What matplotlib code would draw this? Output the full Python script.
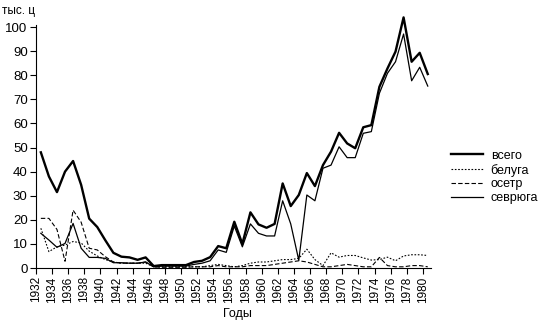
import numpy as np
import matplotlib
matplotlib.use("Agg")
import matplotlib.pyplot as plt

plt.rcParams['font.family'] = ['Liberation Sans', 'DejaVu Sans']

years = list(range(1932, 1981))

total = [48, 38, 31.5, 40, 44.4, 34.5, 20.5, 17, 11.5, 6.3, 4.7, 4.4, 3.4, 4.4, 0.8, 1.2, 1.2, 1.2, 1.2, 2.5,
         3.0, 4.5, 9.1, 8.2, 19.2, 10, 23.1, 18.1, 16.7, 18.3, 35.1, 25.7, 30.3, 39.4, 34, 42.7, 48.3, 56.1, 51.7, 49.7,
         58.4, 59.3, 75.2, 82.8, 89.8, 104, 85.6, 89.3, 80.5]

beluga = [16.5, 6.8, 8.8, 9.5, 11, 10.4, 7, 5, 3.5, 2.5, 2, 2, 2, 2, 0.5, 0.5, 0.5, 0.5, 0.5, 0.5,
          0.5, 1, 1.5, 1, 0.5, 1, 2, 2.5, 2.5, 3, 3.5, 3.5, 4, 7.8, 3.5, 1, 6.3, 4.5, 5.2, 5.2,
          4.2, 3.3, 3.5, 4.5, 3, 5, 5.5, 5.5, 5.2]

osetr = [20.6, 20.6, 16, 2.8, 24, 19, 8.2, 7.5, 4.7, 2.5, 2, 2, 2, 2.5, 0.5, 0.3, 0.3, 0.3, 0.3, 0.5,
         0.5, 0.5, 1, 0.5, 0.5, 0.5, 1, 1, 1, 1.5, 2, 2.5, 3, 2.5, 1.5, 0.5, 0.5, 1, 1.5, 1,
         0.5, 0.5, 4.4, 1, 0.5, 0.5, 1, 1, 0.5]

sevruga = [14.4, 11.6, 8.6, 10.2, 18.5, 8.2, 4.4, 4.4, 4, 2.2, 2.2, 2, 2, 2.5, 0.5, 0.8, 0.8, 0.8, 0.8, 1.5,
           2, 3, 7.5, 6.5, 17.4, 8.8, 18.3, 14.4, 13.3, 13.3, 27.9, 18.3, 3.2, 30.3, 27.9, 41.4, 42.7, 50.3, 45.8, 45.8,
           55.9, 56.6, 72.5, 80.8, 85.6, 97.1, 77.7, 83.3, 75.5]

labels = ['всего', 'белуга', 'осетр', 'севрюга']

fig = plt.figure(figsize=(5.39, 3.24), dpi=100)
ax = fig.add_axes([0.0668, 0.1728, 0.7328, 0.7512])

x = np.array(years) + 0.6
l1, = ax.plot(x, total, color='black', lw=1.7, label=labels[0], clip_on=False)
l2, = ax.plot(x, beluga, color='black', lw=0.8, linestyle=(0, (1.5, 1.5)), label=labels[1])
l3, = ax.plot(x, osetr, color='black', lw=0.8, linestyle=(0, (4, 2)), label=labels[2])
l4, = ax.plot(x, sevruga, color='black', lw=0.9, label=labels[3], clip_on=False)

ax.set_xlim(1932, 1981)
ax.set_ylim(0, 101)
ax.set_yticks(range(0, 101, 10))
ax.set_xticks(range(1932, 1981, 2))
ax.set_xticklabels([str(y) for y in range(1932, 1981, 2)], rotation=90, fontsize=8.5)
ax.tick_params(axis='y', labelsize=9.5, length=4, width=0.8, pad=2)
ax.tick_params(axis='x', length=4, width=0.8, pad=2)
for s in ['top', 'right']:
    ax.spines[s].set_visible(False)
for s in ['left', 'bottom']:
    ax.spines[s].set_linewidth(0.8)

fig.text(0.004, 0.985, 'тыс. ц', ha='left', va='top', fontsize=8.5)
fig.text(0.44, 0.03, 'Годы', ha='center', va='center', fontsize=9)

fig.legend(handles=[l1, l2, l3, l4], loc='upper left', bbox_to_anchor=(0.82, 0.565),
           frameon=False, fontsize=9, handlelength=2.6, handletextpad=0.6, labelspacing=0.15,
           borderpad=0.2)

fig.savefig('out.png', dpi=100)
